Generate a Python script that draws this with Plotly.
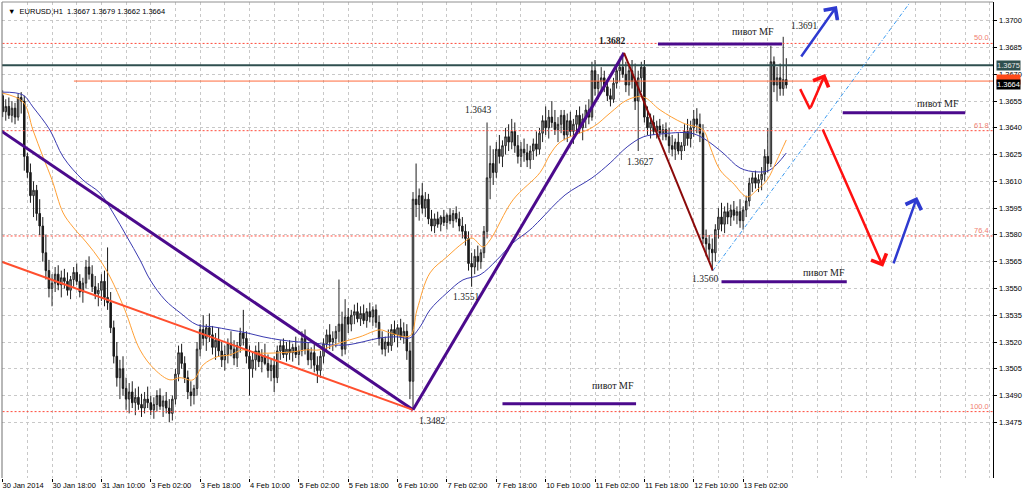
import plotly.graph_objects as go

# ---------------- candle data (EURUSD H1), bar index 1..256 ----------------
opens = [
    1.3655, 1.3658, 1.3649, 1.3652, 1.3647, 1.3651, 1.3646, 1.3657,
    1.3655, 1.3624, 1.3615, 1.3602, 1.3605, 1.3592, 1.3585, 1.3570,
    1.3560, 1.3550, 1.3553, 1.3558, 1.3552, 1.3556, 1.3554, 1.3549,
    1.3555, 1.3559, 1.3554, 1.3548, 1.3553, 1.3562, 1.3558, 1.3551,
    1.3547, 1.3549, 1.3554, 1.3545, 1.3542, 1.3528, 1.3512, 1.3500,
    1.3505, 1.3494, 1.3488, 1.3492, 1.3486, 1.3489, 1.3485, 1.3483,
    1.3488, 1.3486, 1.3482, 1.3485, 1.3490, 1.3484, 1.3487, 1.3483,
    1.3480, 1.3488, 1.3502, 1.3514, 1.3508, 1.3500, 1.3492, 1.3490,
    1.3494, 1.3516, 1.3527, 1.3522, 1.3528, 1.3524, 1.3517, 1.3521,
    1.3515, 1.3510, 1.3513, 1.3519, 1.3516, 1.3511, 1.3518, 1.3525,
    1.3522, 1.3512, 1.3505, 1.3510, 1.3515, 1.3509, 1.3512, 1.3508,
    1.3504, 1.3507, 1.3500, 1.3515, 1.3518, 1.3513, 1.3516, 1.3514,
    1.3517, 1.3513, 1.3515, 1.3522, 1.3516, 1.3510, 1.3514, 1.3507,
    1.3504, 1.3512, 1.3519, 1.3524, 1.3520, 1.3522, 1.3526, 1.3530,
    1.3516, 1.3534, 1.3530, 1.3535, 1.3537, 1.3533, 1.3536, 1.3532,
    1.3537, 1.3534, 1.3538, 1.3531, 1.3522, 1.3516, 1.3520, 1.3518,
    1.3527, 1.3524, 1.3528, 1.3523, 1.3526, 1.3515, 1.3498, 1.3600,
    1.3597, 1.3602, 1.3595, 1.3600, 1.3589, 1.3585, 1.3589, 1.3586,
    1.3590, 1.3587, 1.3591, 1.3588, 1.3592, 1.3589, 1.3585, 1.3582,
    1.3578, 1.3564, 1.3562, 1.3568, 1.3565, 1.3570, 1.3582, 1.3612,
    1.3620, 1.3615, 1.3628, 1.3624, 1.3630, 1.3635, 1.3632, 1.3638,
    1.3630, 1.3624, 1.3628, 1.3626, 1.3622, 1.3627, 1.3631, 1.3628,
    1.3637, 1.3644, 1.3640, 1.3646, 1.3643, 1.3639, 1.3642, 1.3647,
    1.3636, 1.3644, 1.3638, 1.3642, 1.3647, 1.3640, 1.3645, 1.3650,
    1.3646, 1.3672, 1.3662, 1.3666, 1.3668, 1.3663, 1.3658, 1.3656,
    1.3665, 1.3672, 1.3674, 1.3670, 1.3664, 1.3672, 1.3666, 1.3655,
    1.3668, 1.3674, 1.3646, 1.3640, 1.3643, 1.3638, 1.3641, 1.3637,
    1.3639, 1.3635, 1.3630, 1.3628, 1.3632, 1.3627, 1.3630, 1.3638,
    1.3634, 1.3640, 1.3645, 1.3642, 1.3637, 1.3578, 1.3575, 1.3572,
    1.3570, 1.3583, 1.3590, 1.3586, 1.3593, 1.3590, 1.3594, 1.3591,
    1.3593, 1.3588, 1.3594, 1.3599, 1.3609, 1.3612, 1.3609, 1.3611,
    1.3614, 1.3624, 1.3620, 1.3677, 1.3664, 1.3668, 1.3662, 1.3667,
]
highs = [
    1.3662, 1.3661, 1.3656, 1.3657, 1.3655, 1.3654, 1.3659, 1.3660,
    1.3658, 1.3626, 1.3620, 1.3610, 1.3608, 1.3600, 1.3590, 1.3580,
    1.3566, 1.3558, 1.3562, 1.3563, 1.3560, 1.3561, 1.3559, 1.3557,
    1.3562, 1.3564, 1.3558, 1.3556, 1.3566, 1.3568, 1.3563, 1.3557,
    1.3553, 1.3558, 1.3560, 1.3573, 1.3548, 1.3532, 1.3520, 1.3510,
    1.3512, 1.3500, 1.3497, 1.3498, 1.3494, 1.3495, 1.3491, 1.3492,
    1.3495, 1.3490, 1.3489, 1.3493, 1.3494, 1.3490, 1.3492, 1.3488,
    1.3490, 1.3505, 1.3518, 1.3519, 1.3512, 1.3504, 1.3498, 1.3496,
    1.3520, 1.3530, 1.3535, 1.3530, 1.3536, 1.3529, 1.3525, 1.3528,
    1.3520, 1.3518, 1.3522, 1.3526, 1.3521, 1.3520, 1.3528, 1.3538,
    1.3526, 1.3518, 1.3514, 1.3518, 1.3520, 1.3516, 1.3519, 1.3513,
    1.3511, 1.3512, 1.3518, 1.3521, 1.3522, 1.3520, 1.3521, 1.3519,
    1.3523, 1.3518, 1.3526, 1.3527, 1.3520, 1.3517, 1.3519, 1.3512,
    1.3515, 1.3522, 1.3527, 1.3530, 1.3526, 1.3529, 1.3555, 1.3537,
    1.3544, 1.3539, 1.3538, 1.3541, 1.3542, 1.3540, 1.3541, 1.3539,
    1.3542, 1.3540, 1.3541, 1.3535, 1.3526, 1.3523, 1.3527, 1.3530,
    1.3532, 1.3530, 1.3533, 1.3531, 1.3530, 1.3520, 1.3604, 1.3620,
    1.3606, 1.3609, 1.3604, 1.3603, 1.3594, 1.3592, 1.3593, 1.3591,
    1.3594, 1.3592, 1.3595, 1.3594, 1.3596, 1.3593, 1.3590, 1.3586,
    1.3582, 1.3570, 1.3572, 1.3574, 1.3572, 1.3585, 1.3643, 1.3630,
    1.3628, 1.3632, 1.3636, 1.3633, 1.3640, 1.3642, 1.3645, 1.3643,
    1.3636, 1.3632, 1.3634, 1.3631, 1.3630, 1.3634, 1.3638, 1.3640,
    1.3647, 1.3652, 1.3650, 1.3655, 1.3650, 1.3646, 1.3650, 1.3650,
    1.3648, 1.3649, 1.3645, 1.3650, 1.3652, 1.3648, 1.3653, 1.3656,
    1.3677, 1.3678, 1.3670, 1.3674, 1.3672, 1.3667, 1.3662, 1.3668,
    1.3675, 1.3678, 1.3682, 1.3677, 1.3676, 1.3678, 1.3676, 1.3672,
    1.3677, 1.3678, 1.3652, 1.3648, 1.3647, 1.3644, 1.3645, 1.3642,
    1.3643, 1.3640, 1.3636, 1.3634, 1.3637, 1.3632, 1.3642, 1.3645,
    1.3644, 1.3650, 1.3651, 1.3648, 1.3642, 1.3583, 1.3580, 1.3578,
    1.3586, 1.3595, 1.3598, 1.3596, 1.3598, 1.3597, 1.3599, 1.3596,
    1.3600, 1.3596, 1.3602, 1.3612, 1.3615, 1.3616, 1.3614, 1.3618,
    1.3628, 1.3640, 1.3686, 1.3680, 1.3674, 1.3676, 1.3691, 1.3679,
]
lows = [
    1.3650, 1.3646, 1.3644, 1.3645, 1.3643, 1.3642, 1.3644, 1.3648,
    1.3616, 1.3612, 1.3598, 1.3590, 1.3588, 1.3580, 1.3565, 1.3555,
    1.3545, 1.3540, 1.3548, 1.3549, 1.3545, 1.3550, 1.3546, 1.3544,
    1.3551, 1.3552, 1.3545, 1.3542, 1.3550, 1.3555, 1.3548, 1.3544,
    1.3540, 1.3543, 1.3540, 1.3538, 1.3525, 1.3508, 1.3495, 1.3488,
    1.3490, 1.3482, 1.3480, 1.3483, 1.3479, 1.3482, 1.3478, 1.3480,
    1.3483, 1.3479, 1.3477, 1.3481, 1.3482, 1.3478, 1.3480, 1.3475,
    1.3476, 1.3485, 1.3498, 1.3505, 1.3497, 1.3488, 1.3484, 1.3485,
    1.3490, 1.3512, 1.3518, 1.3515, 1.3520, 1.3513, 1.3510, 1.3512,
    1.3506, 1.3504, 1.3508, 1.3512, 1.3507, 1.3506, 1.3514, 1.3518,
    1.3508, 1.3490, 1.3500, 1.3504, 1.3506, 1.3503, 1.3507, 1.3500,
    1.3498, 1.3492, 1.3497, 1.3510, 1.3511, 1.3509, 1.3510, 1.3509,
    1.3511, 1.3507, 1.3512, 1.3513, 1.3507, 1.3505, 1.3503, 1.3497,
    1.3500, 1.3508, 1.3514, 1.3516, 1.3515, 1.3517, 1.3520, 1.3512,
    1.3513, 1.3525, 1.3526, 1.3530, 1.3531, 1.3529, 1.3530, 1.3528,
    1.3531, 1.3529, 1.3528, 1.3518, 1.3513, 1.3512, 1.3514, 1.3515,
    1.3520, 1.3517, 1.3521, 1.3519, 1.3510, 1.3488, 1.3482, 1.3590,
    1.3588, 1.3592, 1.3590, 1.3586, 1.3582, 1.3581, 1.3584, 1.3582,
    1.3585, 1.3583, 1.3586, 1.3584, 1.3587, 1.3582, 1.3578, 1.3574,
    1.3560, 1.3551, 1.3558, 1.3560, 1.3561, 1.3567, 1.3578, 1.3600,
    1.3608, 1.3612, 1.3620, 1.3618, 1.3625, 1.3627, 1.3628, 1.3626,
    1.3620, 1.3618, 1.3621, 1.3618, 1.3617, 1.3622, 1.3624, 1.3625,
    1.3632, 1.3636, 1.3634, 1.3640, 1.3636, 1.3632, 1.3637, 1.3633,
    1.3632, 1.3635, 1.3631, 1.3638, 1.3637, 1.3633, 1.3640, 1.3642,
    1.3644, 1.3658, 1.3656, 1.3660, 1.3660, 1.3655, 1.3652, 1.3654,
    1.3662, 1.3666, 1.3668, 1.3660, 1.3658, 1.3662, 1.3650, 1.3627,
    1.3660, 1.3643, 1.3636, 1.3634, 1.3636, 1.3634, 1.3635, 1.3633,
    1.3633, 1.3626, 1.3624, 1.3622, 1.3625, 1.3622, 1.3627, 1.3630,
    1.3629, 1.3635, 1.3637, 1.3632, 1.3575, 1.3568, 1.3566, 1.3560,
    1.3565, 1.3578, 1.3582, 1.3581, 1.3586, 1.3585, 1.3588, 1.3586,
    1.3584, 1.3583, 1.3590, 1.3596, 1.3604, 1.3606, 1.3604, 1.3605,
    1.3610, 1.3615, 1.3618, 1.3660, 1.3655, 1.3658, 1.3658, 1.3662,
]
closes = [
    1.3658, 1.3649, 1.3652, 1.3647, 1.3651, 1.3646, 1.3657, 1.3655,
    1.3624, 1.3615, 1.3602, 1.3605, 1.3592, 1.3585, 1.3570, 1.3560,
    1.3550, 1.3553, 1.3558, 1.3552, 1.3556, 1.3554, 1.3549, 1.3555,
    1.3559, 1.3554, 1.3548, 1.3553, 1.3562, 1.3558, 1.3551, 1.3547,
    1.3549, 1.3554, 1.3545, 1.3542, 1.3528, 1.3512, 1.3500, 1.3505,
    1.3494, 1.3488, 1.3492, 1.3486, 1.3489, 1.3485, 1.3483, 1.3488,
    1.3486, 1.3482, 1.3485, 1.3490, 1.3484, 1.3487, 1.3483, 1.3480,
    1.3488, 1.3502, 1.3514, 1.3508, 1.3500, 1.3492, 1.3490, 1.3494,
    1.3516, 1.3527, 1.3522, 1.3528, 1.3524, 1.3517, 1.3521, 1.3515,
    1.3510, 1.3513, 1.3519, 1.3516, 1.3511, 1.3518, 1.3525, 1.3522,
    1.3512, 1.3505, 1.3510, 1.3515, 1.3509, 1.3512, 1.3508, 1.3504,
    1.3507, 1.3500, 1.3515, 1.3518, 1.3513, 1.3516, 1.3514, 1.3517,
    1.3513, 1.3515, 1.3522, 1.3516, 1.3510, 1.3514, 1.3507, 1.3504,
    1.3512, 1.3519, 1.3524, 1.3520, 1.3522, 1.3526, 1.3530, 1.3516,
    1.3534, 1.3530, 1.3535, 1.3537, 1.3533, 1.3536, 1.3532, 1.3537,
    1.3534, 1.3538, 1.3531, 1.3522, 1.3516, 1.3520, 1.3518, 1.3527,
    1.3524, 1.3528, 1.3523, 1.3526, 1.3515, 1.3498, 1.3600, 1.3597,
    1.3602, 1.3595, 1.3600, 1.3589, 1.3585, 1.3589, 1.3586, 1.3590,
    1.3587, 1.3591, 1.3588, 1.3592, 1.3589, 1.3585, 1.3582, 1.3578,
    1.3564, 1.3562, 1.3568, 1.3565, 1.3570, 1.3582, 1.3612, 1.3620,
    1.3615, 1.3628, 1.3624, 1.3630, 1.3635, 1.3632, 1.3638, 1.3630,
    1.3624, 1.3628, 1.3626, 1.3622, 1.3627, 1.3631, 1.3628, 1.3637,
    1.3644, 1.3640, 1.3646, 1.3643, 1.3639, 1.3642, 1.3647, 1.3636,
    1.3644, 1.3638, 1.3642, 1.3647, 1.3640, 1.3645, 1.3650, 1.3646,
    1.3672, 1.3662, 1.3666, 1.3668, 1.3663, 1.3658, 1.3656, 1.3665,
    1.3672, 1.3674, 1.3670, 1.3664, 1.3672, 1.3666, 1.3655, 1.3668,
    1.3674, 1.3646, 1.3640, 1.3643, 1.3638, 1.3641, 1.3637, 1.3639,
    1.3635, 1.3630, 1.3628, 1.3632, 1.3627, 1.3630, 1.3638, 1.3634,
    1.3640, 1.3645, 1.3642, 1.3637, 1.3578, 1.3575, 1.3572, 1.3570,
    1.3583, 1.3590, 1.3586, 1.3593, 1.3590, 1.3594, 1.3591, 1.3593,
    1.3588, 1.3594, 1.3599, 1.3609, 1.3612, 1.3609, 1.3611, 1.3614,
    1.3624, 1.3620, 1.3677, 1.3664, 1.3668, 1.3662, 1.3667, 1.3664,
]
bars = list(range(1, len(closes) + 1))

# ---------------- moving averages ----------------
fast_ma_bars = [1.8, 8.6, 11.8, 15.1, 18.0, 21.6, 24.8, 29.3, 33.5, 36.8, 41.6, 46.5,
                51.4, 56.2, 59.5, 63.7, 67.0, 71.5, 75.7, 79.9, 84.4, 90.9, 96.1,
                100.6, 104.9, 111.3, 117.8, 124.3, 127.6, 134.0, 136.3, 140.5, 146.0,
                151.2, 154.1, 157.7, 160.0, 167.4, 176.2, 179.4, 182.7, 193.4, 198.9,
                204.4, 209.6, 215.1, 222.5, 229.0, 231.3, 234.5, 238.7, 243.3, 246.5,
                249.8, 253.0, 256.0]
fast_ma_vals = [1.36595, 1.36545, 1.36388, 1.36236, 1.36108, 1.35923, 1.35844, 1.35755,
                1.35660, 1.35565, 1.35380, 1.35156, 1.35044, 1.34988, 1.35000, 1.34988,
                1.35072, 1.35117, 1.35128, 1.35156, 1.35139, 1.35139, 1.35145, 1.35156,
                1.35156, 1.35195, 1.35229, 1.35268, 1.35251, 1.35234, 1.35380, 1.35587,
                1.35677, 1.35755, 1.35783, 1.35733, 1.35772, 1.35996, 1.36150, 1.36250,
                1.36320, 1.36405, 1.36483, 1.36556, 1.36573, 1.36500, 1.36427, 1.36388,
                1.36293, 1.36164, 1.36091, 1.36013, 1.36052, 1.36108, 1.36220, 1.36332]
slow_ma_bars = [1.8, 8.6, 11.8, 17.3, 21.6, 28.0, 33.5, 37.8, 42.3, 46.5, 49.8, 54.6,
                59.5, 65.0, 70.2, 75.7, 81.2, 86.4, 91.9, 97.4, 102.6, 108.1, 113.6,
                118.8, 124.3, 129.8, 134.0, 137.3, 140.5, 146.0, 151.2, 156.7, 162.2,
                167.4, 172.9, 176.2, 184.3, 193.0, 198.9, 204.4, 209.6, 215.1, 224.8,
                229.0, 235.5, 241.0, 246.5, 250.7, 256.0]
slow_ma_vals = [1.36600, 1.36584, 1.36517, 1.36388, 1.36237, 1.36108, 1.36035, 1.35923,
                1.35789, 1.35660, 1.35548, 1.35436, 1.35364, 1.35296, 1.35285, 1.35268,
                1.35251, 1.35229, 1.35212, 1.35201, 1.35195, 1.35184, 1.35184, 1.35201,
                1.35223, 1.35229, 1.35223, 1.35285, 1.35380, 1.35475, 1.35548, 1.35576,
                1.35660, 1.35755, 1.35828, 1.35884, 1.36024, 1.36119, 1.36203, 1.36293,
                1.36349, 1.36365, 1.36371, 1.36343, 1.36259, 1.36175, 1.36153, 1.36164,
                1.36259]

# ---------------- axes ----------------
time_tick_bars = [1.78, 18, 34, 50, 66, 82, 98, 114, 130, 146, 162, 178, 194, 210, 226, 242]
time_tick_labels = ["30 Jan 2014", "30 Jan 18:00", "31 Jan 10:00", "3 Feb 02:00", "3 Feb 18:00",
                    "4 Feb 10:00", "5 Feb 02:00", "5 Feb 18:00", "6 Feb 10:00", "7 Feb 02:00",
                    "7 Feb 18:00", "10 Feb 10:00", "11 Feb 02:00", "11 Feb 18:00",
                    "12 Feb 10:00", "13 Feb 02:00"]
grid_bars = list(range(2, 323, 8))
price_ticks = [1.3475, 1.3490, 1.3505, 1.3520, 1.3535, 1.3550, 1.3565, 1.3580,
               1.3595, 1.3610, 1.3625, 1.3640, 1.3655, 1.3670, 1.3685, 1.3700]
x_range = [1.78, 323.0]
y_range = [1.34438, 1.37105]

# ---------------- drawn objects ----------------
trend_x0 = [0.0, 0.0, 135.0, 203.4]
trend_y0 = [1.3640, 1.3566, 1.3482, 1.3682]
trend_x1 = [135.0, 135.0, 203.4, 232.2]
trend_y1 = [1.3482, 1.3482, 1.3682, 1.3560]
trend_colors = ["#4B0A8C", "#FF4F2E", "#4B0A8C", "#8B0A0A"]
trend_widths = [3, 2, 3, 2]

channel_x = [232.2, 296.0]
channel_y = [1.3560, 1.37100]

fib_levels = [1.36873, 1.36384, 1.35794, 1.34810]
fib_labels = ["50.0", "61.8", "76.4", "100.0"]

pivot_x0 = [214.4, 274.3, 235.0, 164.0]
pivot_x1 = [254.6, 314.0, 275.6, 207.3]
pivot_y = [1.3687, 1.36485, 1.35538, 1.34854]
pivot_label_x = [245.2, 305.2, 268.2, 199.8]
pivot_label_y = [1.36940, 1.36535, 1.35590, 1.34955]

price_label_text = ["1.3682", "1.3691", "1.3643", "1.3627", "1.3551", "1.3482", "1.3560"]
price_label_x = [199.5, 261.8, 156.1, 208.6, 152.2, 141.2, 229.7]
price_label_y = [1.36886, 1.36970, 1.36500, 1.36209, 1.35452, 1.34757, 1.35553]
price_label_bold = [True, False, False, False, False, False, False]

arrow_tail_x = [260.5, 263.7, 267.6, 290.6]
arrow_tail_y = [1.36791, 1.36505, 1.36399, 1.35632]
arrow_head_x = [272.4, 268.6, 287.4, 298.4]
arrow_head_y = [1.37082, 1.36702, 1.35621, 1.36013]
arrow_colors = ["#2E3AD0", "#FF1010", "#FF1010", "#2E3AD0"]
v_arrow_x = [260.5, 263.7]
v_arrow_y = [1.36617, 1.36505]

level_line = 1.3675
user_line = 1.36662
user_line_start = 25.1
bid_price = 1.3664
header = "▼  EURUSD,H1  1.3667 1.3679 1.3662 1.3664"

# ---------------- figure ----------------
fig = go.Figure()

SANS = "Liberation Sans, Arial, DejaVu Sans"
SERIF = "Liberation Serif, Times New Roman, serif"

# fib levels
for lv in fib_levels:
    fig.add_trace(go.Scatter(x=[x_range[0] - 5, x_range[1] + 5], y=[lv, lv], mode="lines",
                             line=dict(color="#FF4A3A", width=1, dash="2px,2px"),
                             hoverinfo="skip", showlegend=False))
# horizontal level lines
fig.add_trace(go.Scatter(x=[x_range[0] - 5, x_range[1] + 5], y=[level_line, level_line], mode="lines",
                         line=dict(color="#2F4F4F", width=2), hoverinfo="skip", showlegend=False))
fig.add_trace(go.Scatter(x=[user_line_start, x_range[1] + 5], y=[user_line, user_line], mode="lines",
                         line=dict(color="#FF6A3D", width=1), hoverinfo="skip", showlegend=False))

# moving averages
fig.add_trace(go.Scatter(x=slow_ma_bars, y=slow_ma_vals, mode="lines", line_shape="spline",
                         line=dict(color="#3A3AB0", width=1), hoverinfo="skip", showlegend=False))
fig.add_trace(go.Scatter(x=fast_ma_bars, y=fast_ma_vals, mode="lines", line_shape="spline",
                         line=dict(color="#FFA035", width=1), hoverinfo="skip", showlegend=False))

# candles
fig.add_trace(go.Candlestick(
    x=bars, open=opens, high=highs, low=lows, close=closes,
    increasing=dict(fillcolor="#A0A0A0", line=dict(color="#262626", width=1)),
    decreasing=dict(fillcolor="#1A1A1A", line=dict(color="#1A1A1A", width=1)),
    whiskerwidth=0, showlegend=False, hoverinfo="skip"))

# trend lines
for i in range(len(trend_x0)):
    fig.add_trace(go.Scatter(x=[trend_x0[i], trend_x1[i]], y=[trend_y0[i], trend_y1[i]], mode="lines",
                             line=dict(color=trend_colors[i], width=trend_widths[i]),
                             hoverinfo="skip", showlegend=False))
fig.add_trace(go.Scatter(x=channel_x, y=channel_y, mode="lines",
                         line=dict(color="#3A9AF0", width=1, dash="4px,2px,1px,2px"),
                         hoverinfo="skip", showlegend=False))

# pivot segments
for i in range(len(pivot_y)):
    fig.add_trace(go.Scatter(x=[pivot_x0[i], pivot_x1[i]], y=[pivot_y[i], pivot_y[i]], mode="lines",
                             line=dict(color="#4B0A8C", width=3), hoverinfo="skip", showlegend=False))

# V part of red arrow
fig.add_trace(go.Scatter(x=v_arrow_x, y=v_arrow_y, mode="lines",
                         line=dict(color="#FF1010", width=2.5), hoverinfo="skip", showlegend=False))

annotations = []
for i in range(len(arrow_tail_x)):
    annotations.append(dict(x=arrow_head_x[i], y=arrow_head_y[i], ax=arrow_tail_x[i], ay=arrow_tail_y[i],
                            xref="x", yref="y", axref="x", ayref="y", text="", showarrow=True,
                            arrowhead=4, arrowsize=1.3, arrowwidth=2.5, arrowcolor=arrow_colors[i]))
for i in range(len(pivot_y)):
    annotations.append(dict(x=pivot_label_x[i], y=pivot_label_y[i], xref="x", yref="y",
                            text="пивот MF", showarrow=False,
                            font=dict(family=SERIF, size=10, color="#1A1A1A")))
for i in range(len(price_label_text)):
    t = price_label_text[i]
    if price_label_bold[i]:
        t = "<b>" + t + "</b>"
    annotations.append(dict(x=price_label_x[i], y=price_label_y[i], xref="x", yref="y", text=t,
                            showarrow=False, font=dict(family=SERIF, size=9.5, color="#1A1A1A")))
for lv, lab in zip(fib_levels, fib_labels):
    annotations.append(dict(x=0.998, y=lv, xref="paper", yref="y", text=lab, showarrow=False,
                            xanchor="right", yanchor="bottom", yshift=-1,
                            font=dict(family=SANS, size=7.5, color="#F08070")))
# price tick labels on the right axis
for pt in price_ticks:
    annotations.append(dict(x=1.0, y=pt, xref="paper", yref="y", text=f"{pt:.4f}", showarrow=False,
                            xanchor="left", xshift=4,
                            font=dict(family=SANS, size=7.5, color="#000000")))
# price boxes on the axis
annotations.append(dict(x=1.0, y=level_line, xref="paper", yref="y", text="1.3675", showarrow=False,
                        xanchor="left", xshift=3, bgcolor="#2F4F4F", borderpad=0,
                        font=dict(family=SANS, size=7.5, color="#E8E8E8")))
annotations.append(dict(x=1.0, y=user_line + 0.00010, xref="paper", yref="y", text="1.3666", showarrow=False,
                        xanchor="left", xshift=3, bgcolor="#FF4A1A", borderpad=0,
                        font=dict(family=SANS, size=7.5, color="#FF4A1A")))
annotations.append(dict(x=1.0, y=bid_price, xref="paper", yref="y", text="1.3664", showarrow=False,
                        xanchor="left", xshift=3, bgcolor="#000000", borderpad=0,
                        font=dict(family=SANS, size=7.5, color="#FFFFFF")))
annotations.append(dict(x=0.004, y=0.994, xref="paper", yref="paper", text=header, showarrow=False,
                        xanchor="left", yanchor="top",
                        font=dict(family=SANS, size=7.5, color="#000000")))

fig.update_layout(
    width=1024, height=495, autosize=False,
    margin=dict(l=2, r=31, t=2, b=17, autoexpand=False),
    paper_bgcolor="white", plot_bgcolor="white",
    showlegend=False,
    annotations=annotations,
    xaxis=dict(range=x_range, type="linear", rangeslider=dict(visible=False),
               automargin=False, tickangle=0,
               tickvals=time_tick_bars, ticktext=time_tick_labels,
               ticklabelposition="outside right", ticks="outside", ticklen=3, tickcolor="#000000",
               showgrid=False, zeroline=False, showline=False,
               tickfont=dict(family=SANS, size=7.5, color="#000000"),
               minor=dict(tickvals=grid_bars, showgrid=True, gridcolor="#C8C8C8",
                          griddash="3px,3px", gridwidth=1, ticks="")),
    yaxis=dict(range=y_range, side="right", tickvals=price_ticks, showticklabels=False,
               automargin=False,
               showgrid=True, gridcolor="#C8C8C8", griddash="3px,3px", gridwidth=1,
               ticks="outside", ticklen=3, tickcolor="#000000",
               showline=True, linecolor="#000000", linewidth=1, zeroline=False),
    shapes=[
        dict(type="line", xref="paper", yref="paper", x0=0, x1=0, y0=0, y1=1,
             line=dict(color="#707070", width=1)),
        dict(type="line", xref="paper", yref="paper", x0=0, x1=1, y0=1, y1=1,
             line=dict(color="#909090", width=1)),
    ],
)

fig.write_html("out.html", config={"displayModeBar": False},
               post_script="document.body.style.margin='0';")
